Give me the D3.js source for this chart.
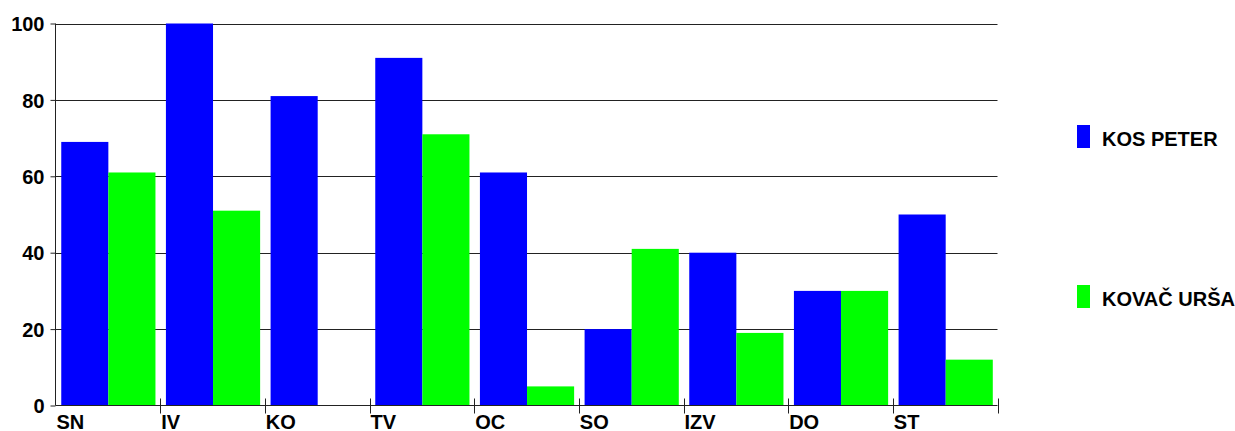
<!DOCTYPE html>
<html><head><meta charset="utf-8">
<script src="https://cdn.jsdelivr.net/npm/d3@7"></script>
<style>body{margin:0;background:#fff}svg{display:block}text{font-family:"Liberation Sans",Arial,sans-serif;font-weight:bold;fill:#000}</style>
</head><body>
<script>
const categories = ["SN","IV","KO","TV","OC","SO","IZV","DO","ST"];
const seriesNames = ["KOS PETER","KOVAČ URŠA"];
const kosPeter = [69,100,81,91,61,20,40,30,50];
const kovacUrsa = [61,51,0,71,5,41,19,30,12];
const yTicks = [0,20,40,60,80,100];
const colors = ["#0000ff","#00ff00"];

const W=1235,H=431;
const svg=d3.select("body").append("svg").attr("width",W).attr("height",H);
const x0=55.5,x1=997.5,yTop=23.5,yBot=405.5;
const x=d3.scaleBand().domain(categories).range([x0,x1]).padding(0);
const y=d3.scaleLinear().domain([0,100]).range([yBot,yTop]);
const bw=x.bandwidth();

// gridlines
svg.append("g").selectAll("line").data(yTicks.filter(d=>d>0)).join("line")
  .attr("x1",x0).attr("x2",x1).attr("y1",d=>Math.round(y(d))+0.5).attr("y2",d=>Math.round(y(d))+0.5)
  .attr("stroke","#222").attr("stroke-width",1);

// bars
const series=[kosPeter,kovacUrsa];
series.forEach((vals,si)=>{
  svg.append("g").selectAll("rect").data(categories).join("rect")
    .attr("x",(c)=>x(c)+bw*0.055+si*bw*0.45)
    .attr("width",bw*0.45)
    .attr("y",(c,i)=>y(vals[i]))
    .attr("height",(c,i)=>yBot-y(vals[i]))
    .attr("fill",colors[si]);
});

// y axis
const ya=d3.axisLeft(y).tickValues(yTicks).tickSize(5).tickPadding(6);
const gy=svg.append("g").attr("transform",`translate(${x0},0)`).call(ya);
gy.attr("font-family",null).attr("font-size",null);
gy.select(".domain").attr("d",`M0,${yTop}V${yBot}`).attr("stroke","#222");
gy.selectAll(".tick line").attr("stroke","#222");
gy.selectAll("text").style("font-size","20px").attr("fill","#000").attr("dy","0.36em");

// x axis
const ticksX=categories.map(c=>x(c)).concat([x1]);
const gx=svg.append("g");
gx.append("line").attr("x1",x0).attr("x2",x1).attr("y1",yBot).attr("y2",yBot).attr("stroke","#222");
gx.selectAll("line.t").data(ticksX.slice(1)).join("line").attr("class","t")
  .attr("x1",d=>Math.round(d)+0.5).attr("x2",d=>Math.round(d)+0.5).attr("y1",yBot-7).attr("y2",yBot+8).attr("stroke","#222");
gx.selectAll("text").data(categories).join("text")
  .attr("x",c=>x(c)+1).attr("y",428.5).style("font-size","20px").text(c=>c);

// legend
const leg=[{y:125},{y:285}];
seriesNames.forEach((n,i)=>{
  svg.append("rect").attr("x",1077).attr("y",leg[i].y).attr("width",13).attr("height",23).attr("fill",colors[i]);
  svg.append("text").attr("x",1102).attr("y",leg[i].y+20.5).style("font-size","20px").text(n);
});
</script>
</body></html>
